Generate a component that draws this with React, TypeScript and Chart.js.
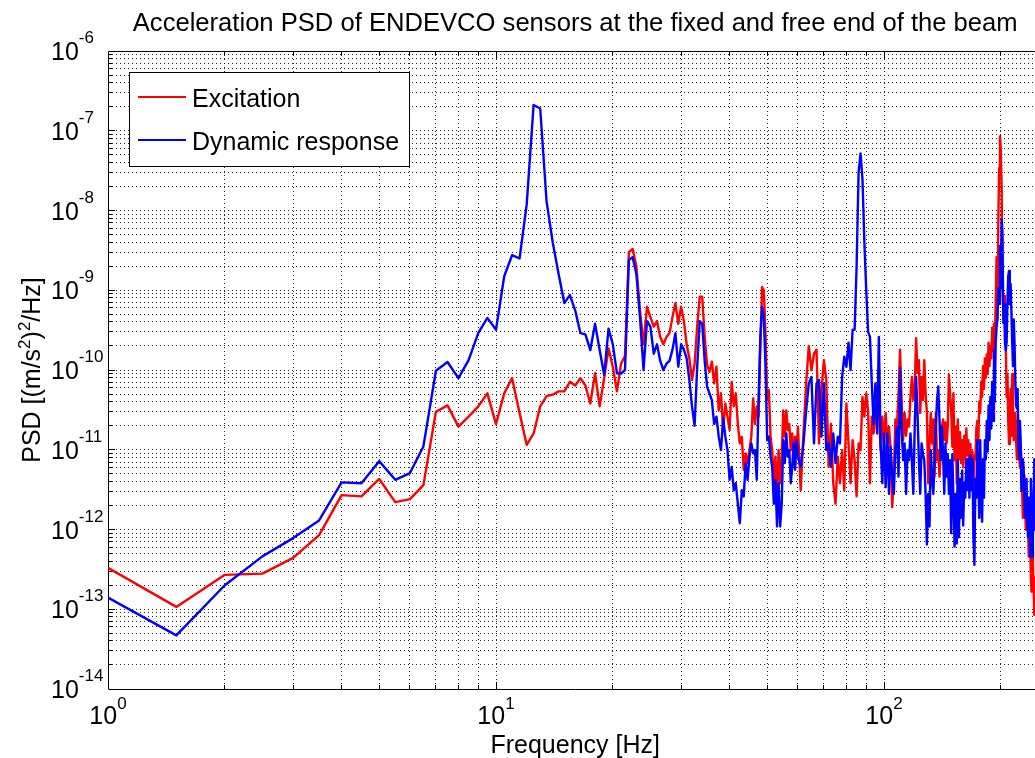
import React, { useEffect, useRef } from "react";
import { Chart, registerables } from "chart.js";

Chart.register(...registerables);

// ---------------- data ----------------
const freqHz: number[] = [
  1, 1.5, 2, 2.5, 3, 3.5, 4, 4.5, 5, 5.5,
  6, 6.5, 7, 7.5, 8, 8.5, 9, 9.5, 10, 10.5,
  11, 11.5, 12, 12.5, 13, 13.5, 14, 14.5, 15, 15.5,
  16, 16.5, 17, 17.5, 18, 18.5, 19, 19.5, 20, 20.5,
  21, 21.5, 22, 22.5, 23, 23.5, 24, 24.5, 25, 25.5,
  26, 26.5, 27, 27.5, 28, 28.5, 29, 29.5, 30, 30.5,
  31, 31.5, 32, 32.5, 33, 33.5, 34, 34.5, 35, 35.5,
  36, 36.5, 37, 37.5, 38, 38.5, 39, 39.5, 40, 40.5,
  41, 41.5, 42, 42.5, 43, 43.5, 44, 44.5, 45, 45.5,
  46, 46.5, 47, 47.5, 48, 48.5, 49, 49.5, 50, 50.5,
  51, 51.5, 52, 52.5, 53, 53.5, 54, 54.5, 55, 55.5,
  56, 56.5, 57, 57.5, 58, 58.5, 59, 59.5, 60,
  61, 62, 63, 64, 65, 66, 67, 68, 69, 70,
  71, 72, 73, 74, 75, 76, 77, 78, 79, 80,
  81, 82, 83, 84, 85, 86, 87, 88, 89, 90,
  91, 92, 93, 94, 95, 96, 97, 98, 99, 100,
  101, 102, 103, 104, 105, 106, 107, 108, 109, 110,
  111, 112, 113, 114, 115, 116, 117, 118, 119, 120,
  121, 122, 123, 124, 125, 126, 127, 128, 129, 130,
  131, 132, 133, 134, 135, 136, 137, 138, 139, 140,
  141, 142, 143, 144, 145, 146, 147, 148, 149, 150,
  151, 152, 153, 154, 155, 156, 157, 158, 159, 160,
  161, 162, 163, 164, 165, 166, 167, 168, 169, 170,
  171, 172, 173, 174, 175, 176, 177, 178, 179, 180,
  181, 182, 183, 184, 185, 186, 187, 188, 189, 190,
  191, 192, 193, 194, 195, 196, 197, 198, 199, 200,
  201, 202, 203, 204, 205, 206, 207, 208, 209, 210,
  211, 212, 213, 214, 215, 216, 217, 218, 219, 220,
  221, 222, 223, 224, 225, 226, 227, 228, 229, 230,
  231, 232, 233, 234, 235, 236, 237, 238, 239, 240,
  241, 242, 243, 244, 245,
];

// Excitation PSD [(m/s^2)^2/Hz]
const excitation: number[] = [
  3.3e-13, 1.07e-13, 2.7e-13, 2.8e-13, 4.4e-13, 8.5e-13, 2.7e-12, 2.6e-12, 4.3e-12, 2.2e-12,
  2.4e-12, 3.6e-12, 3.0e-11, 3.6e-11, 1.95e-11, 2.6e-11, 3.5e-11, 5.1e-11, 2.1e-11, 5.1e-11,
  7.9e-11, 2.9e-11, 1.15e-11, 1.6e-11, 3.5e-11, 4.7e-11, 4.9e-11, 5.4e-11, 5.4e-11, 7.1e-11,
  6.4e-11, 7.9e-11, 6.4e-11, 3.8e-11, 9.1e-11, 3.5e-11, 7.9e-11, 1.86e-10, 1.1e-10, 5.4e-11,
  1.2e-10, 1.5e-10, 3.0e-9, 3.3e-9, 2.0e-9, 5.6e-10, 2.1e-10, 6.2e-10, 4.6e-10, 3.5e-10,
  4.1e-10, 2.6e-10, 2.1e-10, 2.6e-10, 2.9e-10, 4.6e-10, 6.9e-10, 3.8e-10, 6.2e-10, 4.1e-10,
  2.1e-10, 1.4e-10, 7.5e-11, 1.2e-10, 3.5e-10, 8.3e-10, 8.3e-10, 2.6e-10, 1.16e-10, 9.5e-11,
  1.27e-10, 6.8e-11, 1.1e-10, 3.1e-11, 5.1e-11, 1.77e-11, 3.8e-11, 2.6e-11, 1.77e-11, 7.1e-11,
  3.5e-11, 5.1e-11, 2.1e-11, 1.2e-11, 1.46e-11, 5.6e-12, 9.0e-12, 6.8e-12, 9.9e-12, 1.46e-11,
  4.4e-11, 2.1e-11, 3.5e-11, 2.6e-11, 1.8e-10, 1.1e-9, 1.0e-9, 2.9e-10, 4.2e-11, 5.6e-11,
  1.46e-11, 9.9e-12, 3.8e-12, 8.2e-12, 2.6e-12, 9.9e-12, 3.8e-12, 8.2e-12, 3.1e-11, 1.46e-11,
  3.1e-11, 1.77e-11, 2.1e-11, 9.9e-12, 1.6e-11, 6.1e-12, 1.46e-11, 9.0e-12, 1.95e-11,
  3.1e-12, 1.6e-11, 6.8e-11, 2.0e-10, 1.0e-10, 1.6e-10, 1.8e-10, 1.2e-11, 5.6e-11, 1.33e-10,
  7.5e-11, 6.1e-12, 2.1e-11, 3.8e-12, 2.1e-12, 8.2e-12, 3.8e-12, 9.9e-12, 3.1e-12, 3.8e-11,
  1.2e-11, 3.8e-12, 1.32e-11, 7.4e-12, 2.6e-12, 1.2e-11, 9.9e-12, 4.6e-11, 2.6e-11, 5.1e-11,
  3.1e-11, 3.8e-12, 2.6e-11, 1.6e-11, 2.6e-11, 5.6e-11, 3.1e-11, 9.9e-12, 2.6e-11, 1.2e-11,
  2.9e-11, 1.2e-11, 1.95e-11, 9.9e-12, 1.9e-12, 4.6e-12, 2.4e-11, 1.95e-11, 5.1e-11, 1.8e-10,
  4.2e-11, 1.32e-11, 2.9e-11, 1.5e-11, 2.4e-11, 1.95e-11, 4.6e-11, 8.2e-11, 4.2e-11, 6.2e-11,
  2.5e-10, 9.2e-11, 1.33e-10, 2.9e-11, 8.2e-11, 4.2e-11, 1.33e-10, 5.1e-11, 2.9e-11, 3.8e-12,
  1.2e-11, 2.9e-11, 1.2e-11, 2.4e-11, 4.6e-12, 2.9e-11, 7.4e-12, 9.9e-12, 4.6e-12, 8.8e-12,
  1.95e-11, 2.4e-11, 1.32e-11, 2.2e-11, 1.2e-11, 1.95e-11, 8.7e-11, 5.1e-11, 3.1e-11, 1.09e-11,
  5.1e-11, 7.4e-12, 1.95e-11, 3.8e-12, 2.4e-11, 7.6e-12, 1.66e-11, 6.8e-12, 1.32e-11, 6.0e-12,
  1.5e-11, 7.6e-12, 1.85e-11, 8.5e-12, 1.32e-11, 3.8e-12, 1.18e-11, 4.8e-12, 9.5e-12, 3.1e-12,
  8.5e-12, 7.6e-12, 1.85e-11, 2.3e-11, 1.18e-11, 4.0e-11, 2.9e-11, 7.1e-11, 4.6e-11, 1.12e-10,
  5.8e-11, 1.4e-10, 8.0e-11, 1.57e-10, 8.9e-11, 2.2e-10, 1.12e-10, 2.0e-10, 1.4e-10, 3.4e-10,
  1.75e-10, 3.8e-10, 2.2e-10, 6.7e-10, 2.6e-9, 4.3e-10, 6.4e-9, 3.4e-8, 8.5e-8, 6.0e-8,
  2.0e-8, 1.06e-9, 6.7e-10, 8.5e-10, 5.4e-10, 2.2e-10, 4.6e-11, 8.9e-11, 2.3e-11, 1.18e-11,
  2.9e-11, 5.8e-11, 1.5e-11, 8.9e-11, 4.0e-11, 1.32e-11, 2.3e-11, 2.9e-11, 1.32e-11, 7.6e-12,
  2.3e-11, 1.18e-11, 8.5e-12, 6.0e-12, 1.18e-11, 7.6e-12, 3.1e-12, 1.4e-12, 2.5e-12, 4.8e-12,
  2.0e-12, 1.0e-12, 2.5e-12, 2.0e-12, 1.25e-12, 4.6e-13, 1.4e-12, 8.0e-13, 2.6e-13, 1.66e-13,
  5.1e-13, 3.6e-13, 1.85e-13, 8.5e-14, 2.6e-13,
];

// Dynamic response PSD [(m/s^2)^2/Hz]
const response: number[] = [
  1.4e-13, 4.7e-14, 2.0e-13, 4.6e-13, 7.8e-13, 1.3e-12, 3.9e-12, 3.8e-12, 7.2e-12, 4.2e-12,
  5.1e-12, 1.1e-11, 9.8e-11, 1.26e-10, 7.9e-11, 1.33e-10, 2.9e-10, 4.5e-10, 3.2e-10, 1.5e-9,
  2.75e-9, 2.5e-9, 1.2e-8, 2.1e-7, 1.9e-7, 1.3e-8, 4.0e-9, 1.6e-9, 6.9e-10, 8.7e-10,
  5.6e-10, 2.9e-10, 2.8e-10, 1.78e-10, 3.8e-10, 1.78e-10, 8.7e-11, 3.3e-10, 2.1e-10, 9.1e-11,
  9.0e-11, 1.0e-10, 2.4e-9, 2.6e-9, 1.6e-9, 4.6e-10, 1.0e-10, 4.1e-10, 3.5e-10, 1.6e-10,
  2.1e-10, 1.3e-10, 1.0e-10, 1.2e-10, 1.3e-10, 1.8e-10, 2.9e-10, 1.1e-10, 2.1e-10, 1.8e-10,
  1.4e-10, 7.5e-11, 3.5e-11, 2.0e-11, 1.1e-10, 4.1e-10, 3.8e-10, 1.3e-10, 6.2e-11, 5.1e-11,
  4.2e-11, 2.1e-11, 2.6e-11, 1.46e-11, 9.9e-12, 2.5e-11, 1.46e-11, 9.9e-12, 4.2e-12, 6.1e-12,
  3.1e-12, 3.8e-12, 2.1e-12, 1.2e-12, 3.1e-12, 2.6e-12, 6.8e-12, 4.2e-12, 8.2e-12, 1.2e-11,
  9.0e-12, 9.9e-12, 4.2e-12, 4.2e-11, 2.6e-10, 6.2e-10, 4.7e-10, 1.1e-10, 1.32e-11, 1.46e-11,
  8.2e-12, 6.1e-12, 2.1e-12, 4.2e-12, 1.09e-12, 3.8e-12, 1.09e-12, 2.1e-12, 1.32e-11, 6.8e-12,
  1.6e-11, 8.2e-12, 9.9e-12, 3.8e-12, 6.1e-12, 1.2e-11, 5.6e-12, 1.32e-11, 8.2e-12,
  6.1e-12, 1.2e-11, 3.1e-11, 6.8e-11, 8.2e-11, 1.2e-11, 6.8e-11, 7.5e-11, 1.46e-11, 6.8e-11,
  9.9e-12, 1.2e-11, 6.1e-12, 1.6e-11, 6.8e-12, 1.46e-11, 1.2e-11, 8.2e-11, 1.47e-10, 1.1e-10,
  2.2e-10, 1.0e-10, 3.2e-10, 3.2e-10, 2.0e-9, 3.0e-8, 5.2e-8, 2.5e-8, 4.0e-9, 1.0e-9,
  3.0e-10, 2.6e-10, 6.8e-11, 2.1e-11, 6.8e-11, 1.6e-11, 2.6e-10, 1.2e-11, 3.8e-12, 1.6e-11,
  3.4e-12, 1.6e-11, 2.8e-12, 1.09e-11, 4.6e-12, 2.8e-12, 9.9e-12, 1.95e-11, 4.6e-12, 1.05e-10,
  1.95e-11, 7.4e-12, 1.2e-11, 2.8e-12, 9.9e-12, 7.4e-12, 1.6e-11, 7.4e-12, 2.8e-12, 1.95e-11,
  8.2e-11, 2.9e-11, 7.4e-12, 2.8e-12, 1.2e-11, 8.8e-12, 7.4e-12, 2.8e-12, 6.5e-13, 2.8e-12,
  1.09e-12, 9.9e-12, 4.6e-12, 2.8e-12, 7.4e-12, 1.95e-11, 4.2e-11, 6.2e-11, 2.4e-11, 7.4e-12,
  1.95e-11, 8.8e-12, 2.8e-12, 1.2e-11, 4.6e-12, 8.8e-12, 2.8e-12, 7.4e-12, 9.0e-13, 8.8e-12,
  2.4e-12, 6.1e-13, 2.8e-12, 6.7e-13, 7.4e-12, 8.0e-13, 4.3e-12, 1.4e-12, 5.5e-12, 1.12e-12,
  3.8e-12, 2.5e-12, 7.6e-12, 3.1e-12, 7.6e-12, 2.5e-12, 8.5e-12, 3.1e-12, 7.6e-12, 8.0e-13,
  3.6e-13, 4.3e-12, 2.5e-12, 1.32e-11, 4.3e-12, 1.4e-12, 1.32e-11, 2.5e-12, 1.25e-12, 7.6e-12,
  2.5e-12, 1.32e-11, 7.6e-12, 2.3e-11, 9.5e-12, 3.6e-11, 1.32e-11, 4.6e-11, 1.85e-11, 7.1e-11,
  2.3e-11, 1.75e-10, 4.0e-11, 2.2e-10, 3.4e-10, 4.3e-10, 1.06e-9, 6.7e-10, 3.6e-9, 1.06e-9,
  7.6e-9, 5.1e-9, 3.9e-10, 6.7e-10, 2.2e-10, 1.75e-10, 2.2e-10, 6.7e-10, 1.5e-9, 1.75e-9,
  6.7e-10, 1.2e-9, 5.4e-10, 2.2e-10, 1.12e-10, 4.3e-10, 2.2e-10, 7.1e-11, 3.6e-11, 3.3e-11,
  5.8e-11, 1.32e-11, 7.6e-12, 2.3e-11, 1.32e-11, 3.1e-12, 4.3e-12, 7.6e-12, 6.0e-12, 2.5e-12,
  1.4e-12, 3.8e-12, 4.3e-12, 1.25e-12, 8.0e-13, 2.5e-12, 1.8e-12, 4.6e-13, 4.3e-12, 2.0e-12,
  4.6e-13, 8.0e-13, 2.5e-12, 7.6e-12, 1.0e-12,
];

const seriesLabels = ["Excitation", "Dynamic response"];
const seriesColors = ["#ff0000", "#0000ff"];

// axis ranges and tick labels
const xMin = 1;
const xMax = 256;
const yMin = 1e-14;
const yMax = 1e-6;
const xDecades = [1, 10, 100];
const xTickExponents = ["0", "1", "2"];
const yDecades = [1e-6, 1e-7, 1e-8, 1e-9, 1e-10, 1e-11, 1e-12, 1e-13, 1e-14];
const yTickExponents = ["-6", "-7", "-8", "-9", "-10", "-11", "-12", "-13", "-14"];
const tickBase = "10";

const titleText = "Acceleration PSD of ENDEVCO sensors at the fixed and free end of the beam";
const xAxisLabel = "Frequency [Hz]";
const yAxisLabelParts: { text: string; sup: boolean }[] = [
  { text: "PSD [(m/s", sup: false },
  { text: "2", sup: true },
  { text: ")", sup: false },
  { text: "2", sup: true },
  { text: "/Hz]", sup: false },
];

// ---------------- drawing helpers ----------------
const FONT_FAMILY = '"Liberation Sans", Arial, Helvetica, sans-serif';
const MAIN_FONT = `25px ${FONT_FAMILY}`;
const TITLE_FONT = `25.6px ${FONT_FAMILY}`;
const SUP_FONT = `17px ${FONT_FAMILY}`;

const CANVAS_W = 1060;
const CANVAS_H = 758;
const PLOT_LEFT = 108;
const PLOT_TOP = 51;
const PLOT_RIGHT = 1042.4;
const PLOT_BOTTOM = 689;

const crisp = (v: number) => Math.round(v - 0.5) + 0.5;

function gridValues(decades: number[], lo: number, hi: number): number[] {
  const out: number[] = [];
  for (const d of decades) {
    for (let k = 1; k <= 9; k++) {
      const v = d * k;
      if (v > lo * 1.0001 && v < hi * 0.9999) out.push(v);
    }
  }
  return out;
}

const matlabAxesPlugin = {
  id: "matlabAxes",
  beforeDatasetsDraw(chart: any) {
    const { ctx, chartArea: a } = chart;
    const xs = chart.scales.x;
    const ys = chart.scales.y;
    const xg = gridValues(xDecades, xMin, xMax);
    const yg = gridValues(yDecades.slice(1), yMin, yMax);

    ctx.save();
    // dotted grid (major + minor)
    ctx.lineWidth = 1;
    ctx.strokeStyle = "rgba(0,0,0,0.85)";
    ctx.setLineDash([1, 3]);
    ctx.beginPath();
    for (const v of xg) {
      const px = crisp(xs.getPixelForValue(v));
      ctx.moveTo(px, a.top);
      ctx.lineTo(px, a.bottom);
    }
    for (const v of yg) {
      const py = crisp(ys.getPixelForValue(v));
      ctx.moveTo(a.left, py);
      ctx.lineTo(a.right, py);
    }
    ctx.stroke();
    ctx.setLineDash([]);

    // inward tick marks
    ctx.strokeStyle = "#000";
    ctx.beginPath();
    for (const v of xg) {
      const isMajor = xDecades.includes(v);
      const len = isMajor ? 7 : 4;
      const px = crisp(xs.getPixelForValue(v));
      ctx.moveTo(px, a.bottom);
      ctx.lineTo(px, a.bottom - len);
      ctx.moveTo(px, a.top);
      ctx.lineTo(px, a.top + len);
    }
    for (const v of yg) {
      const isMajor = yDecades.some((d) => Math.abs(d - v) / d < 1e-6);
      const len = isMajor ? 7 : 4;
      const py = crisp(ys.getPixelForValue(v));
      ctx.moveTo(a.left, py);
      ctx.lineTo(a.left + len, py);
    }
    ctx.stroke();

    // axes box (right side is outside the visible picture)
    ctx.beginPath();
    const l = crisp(a.left);
    const t = crisp(a.top);
    const b = crisp(a.bottom);
    ctx.moveTo(a.right, t);
    ctx.lineTo(l, t);
    ctx.lineTo(l, b);
    ctx.lineTo(a.right, b);
    ctx.stroke();
    ctx.restore();
  },
  afterDatasetsDraw(chart: any) {
    const { ctx } = chart;
    ctx.save();
    // legend box
    const lx = 129, ly = 72, lw = 280, lh = 94;
    ctx.fillStyle = "#fff";
    ctx.fillRect(lx, ly, lw, lh);
    ctx.strokeStyle = "#000";
    ctx.lineWidth = 1;
    ctx.strokeRect(lx + 0.5, ly + 0.5, lw, lh);
    const rows = [97, 140];
    ctx.font = MAIN_FONT;
    ctx.textBaseline = "alphabetic";
    ctx.textAlign = "left";
    seriesLabels.forEach((label, i) => {
      ctx.strokeStyle = seriesColors[i];
      ctx.lineWidth = 2;
      ctx.beginPath();
      ctx.moveTo(138, rows[i]);
      ctx.lineTo(186, rows[i]);
      ctx.stroke();
      ctx.fillStyle = "#000";
      ctx.fillText(label, 192, rows[i] + 9.5);
    });
    ctx.restore();
  },
  afterDraw(chart: any) {
    const { ctx, chartArea: a } = chart;
    const xs = chart.scales.x;
    const ys = chart.scales.y;
    ctx.save();
    ctx.fillStyle = "#000";
    ctx.textBaseline = "alphabetic";
    ctx.textAlign = "left";

    // x tick labels 10^n centred on tick
    xDecades.forEach((d, i) => {
      const px = xs.getPixelForValue(d);
      ctx.font = MAIN_FONT;
      const wb = ctx.measureText(tickBase).width;
      ctx.font = SUP_FONT;
      const we = ctx.measureText(xTickExponents[i]).width;
      const left = px - (wb + we) / 2;
      ctx.font = MAIN_FONT;
      ctx.fillText(tickBase, left, 724);
      ctx.font = SUP_FONT;
      ctx.fillText(xTickExponents[i], left + wb, 709);
    });

    // y tick labels
    yDecades.forEach((d, i) => {
      const py = ys.getPixelForValue(d);
      ctx.font = MAIN_FONT;
      const wb = ctx.measureText(tickBase).width;
      ctx.fillText(tickBase, 51, py + 9);
      ctx.font = SUP_FONT;
      ctx.fillText(yTickExponents[i], 51 + wb, py - 8);
    });

    // title
    const cx = (a.left + a.right) / 2;
    ctx.font = TITLE_FONT;
    ctx.textAlign = "center";
    ctx.fillText(titleText, cx, 31);
    // x axis label
    ctx.font = MAIN_FONT;
    ctx.fillText(xAxisLabel, cx, 753);

    // y axis label (rotated, with superscripts)
    ctx.textAlign = "left";
    const cy = (a.top + a.bottom) / 2;
    let total = 0;
    for (const p of yAxisLabelParts) {
      ctx.font = p.sup ? SUP_FONT : MAIN_FONT;
      total += ctx.measureText(p.text).width;
    }
    ctx.translate(40, cy);
    ctx.rotate(-Math.PI / 2);
    let x = -total / 2;
    for (const p of yAxisLabelParts) {
      ctx.font = p.sup ? SUP_FONT : MAIN_FONT;
      ctx.fillText(p.text, x, p.sup ? -10 : 0);
      x += ctx.measureText(p.text).width;
    }
    ctx.restore();
  },
};

export default function App() {
  const canvasRef = useRef<HTMLCanvasElement>(null);

  useEffect(() => {
    const canvas = canvasRef.current;
    if (!canvas) return;
    const chart = new Chart(canvas, {
      type: "line",
      data: {
        datasets: [
          {
            label: seriesLabels[0],
            data: freqHz.map((f, i) => ({ x: f, y: excitation[i] })),
            borderColor: seriesColors[0],
            backgroundColor: seriesColors[0],
            borderWidth: 2.4,
            pointRadius: 0,
            tension: 0,
            borderJoinStyle: "round",
            fill: false,
            order: 2,
          },
          {
            label: seriesLabels[1],
            data: freqHz.map((f, i) => ({ x: f, y: response[i] })),
            borderColor: seriesColors[1],
            backgroundColor: seriesColors[1],
            borderWidth: 2.4,
            pointRadius: 0,
            tension: 0,
            borderJoinStyle: "round",
            fill: false,
            order: 1,
          },
        ],
      },
      options: {
        animation: false,
        responsive: false,
        maintainAspectRatio: false,
        events: [],
        layout: {
          padding: {
            left: PLOT_LEFT,
            top: PLOT_TOP,
            right: CANVAS_W - PLOT_RIGHT,
            bottom: CANVAS_H - PLOT_BOTTOM,
          },
        },
        scales: {
          x: { type: "logarithmic", min: xMin, max: xMax, display: false },
          y: { type: "logarithmic", min: yMin, max: yMax, display: false },
        },
        plugins: {
          legend: { display: false },
          title: { display: false },
          tooltip: { enabled: false },
        },
      },
      plugins: [matlabAxesPlugin],
    } as any);
    return () => chart.destroy();
  }, []);

  return (
    <div
      style={{
        position: "absolute",
        left: 0,
        top: 0,
        width: 1035,
        height: 758,
        overflow: "hidden",
        background: "#fff",
      }}
    >
      <canvas ref={canvasRef} width={CANVAS_W} height={CANVAS_H} style={{ display: "block" }} />
    </div>
  );
}
